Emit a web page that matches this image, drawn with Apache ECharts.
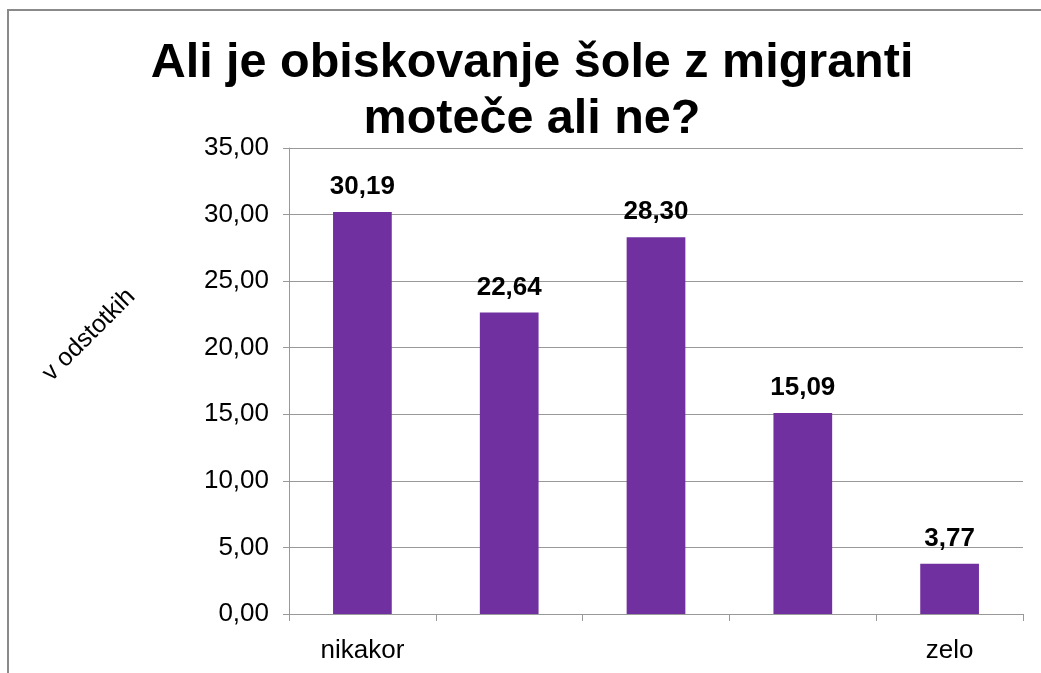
<!DOCTYPE html>
<html>
<head>
<meta charset="utf-8">
<script src="https://cdn.jsdelivr.net/npm/echarts@6/dist/echarts.min.js"></script>
<style>html,body{margin:0;padding:0;background:#fff}#c{width:1041px;height:673px}</style>
</head>
<body>
<div id="c"></div>
<script>
var titleText = "Ali je obiskovanje šole z migranti\nmoteče ali ne?";
var yAxisTitle = "v odstotkih";
var categories = ["nikakor", "", "", "", "zelo"];
var values = [30.19, 22.64, 28.30, 15.09, 3.77];
var yTicks = { min: 0, max: 35, interval: 5 };

var font = "'Liberation Sans', Arial, sans-serif";
function fmt(v) { return Number(v).toFixed(2).replace('.', ','); }

var chart = echarts.init(document.getElementById('c'), null, { renderer: 'canvas' });
chart.setOption({
  backgroundColor: '#fff',
  animation: false,
  title: {
    text: titleText,
    left: 527,
    top: 31,
    textAlign: 'center',
    textStyle: { fontFamily: font, fontSize: 48.5, fontWeight: 'bold', color: '#000', lineHeight: 56 }
  },
  graphic: [
    { type: 'polyline', shape: { points: [[8, 673], [8, 10], [1041, 10]] }, style: { stroke: '#8a8a8a', lineWidth: 2, fill: null }, silent: true },
    { type: 'text', x: 89, y: 335, rotation: Math.PI / 4,
      style: { text: yAxisTitle, fontFamily: font, fontSize: 25, fill: '#000', align: 'center', verticalAlign: 'middle' } }
  ],
  grid: { left: 289, right: 18, top: 148, bottom: 59, containLabel: false },
  xAxis: {
    type: 'category',
    data: categories,
    axisLine: { show: true, lineStyle: { color: '#999', width: 1 } },
    axisTick: { show: true, length: 7, alignWithLabel: false, lineStyle: { color: '#999' } },
    axisLabel: { fontFamily: font, fontSize: 26, color: '#000', margin: 24, interval: 0 },
    splitLine: { show: false }
  },
  yAxis: {
    type: 'value',
    min: yTicks.min, max: yTicks.max, interval: yTicks.interval,
    axisLine: { show: true, lineStyle: { color: '#999', width: 1 } },
    axisTick: { show: true, length: 6, lineStyle: { color: '#999' } },
    axisLabel: { fontFamily: font, fontSize: 26, color: '#000', margin: 20, formatter: fmt },
    splitLine: { show: true, lineStyle: { color: '#999', width: 1 } }
  },
  series: [{
    type: 'bar',
    data: values,
    barWidth: '40%',
    itemStyle: { color: '#7030A0' },
    label: {
      show: true, position: 'top', distance: 12,
      fontFamily: font, fontSize: 26, fontWeight: 'bold', color: '#000',
      formatter: function (p) { return fmt(p.value); }
    }
  }]
});
</script>
</body>
</html>
